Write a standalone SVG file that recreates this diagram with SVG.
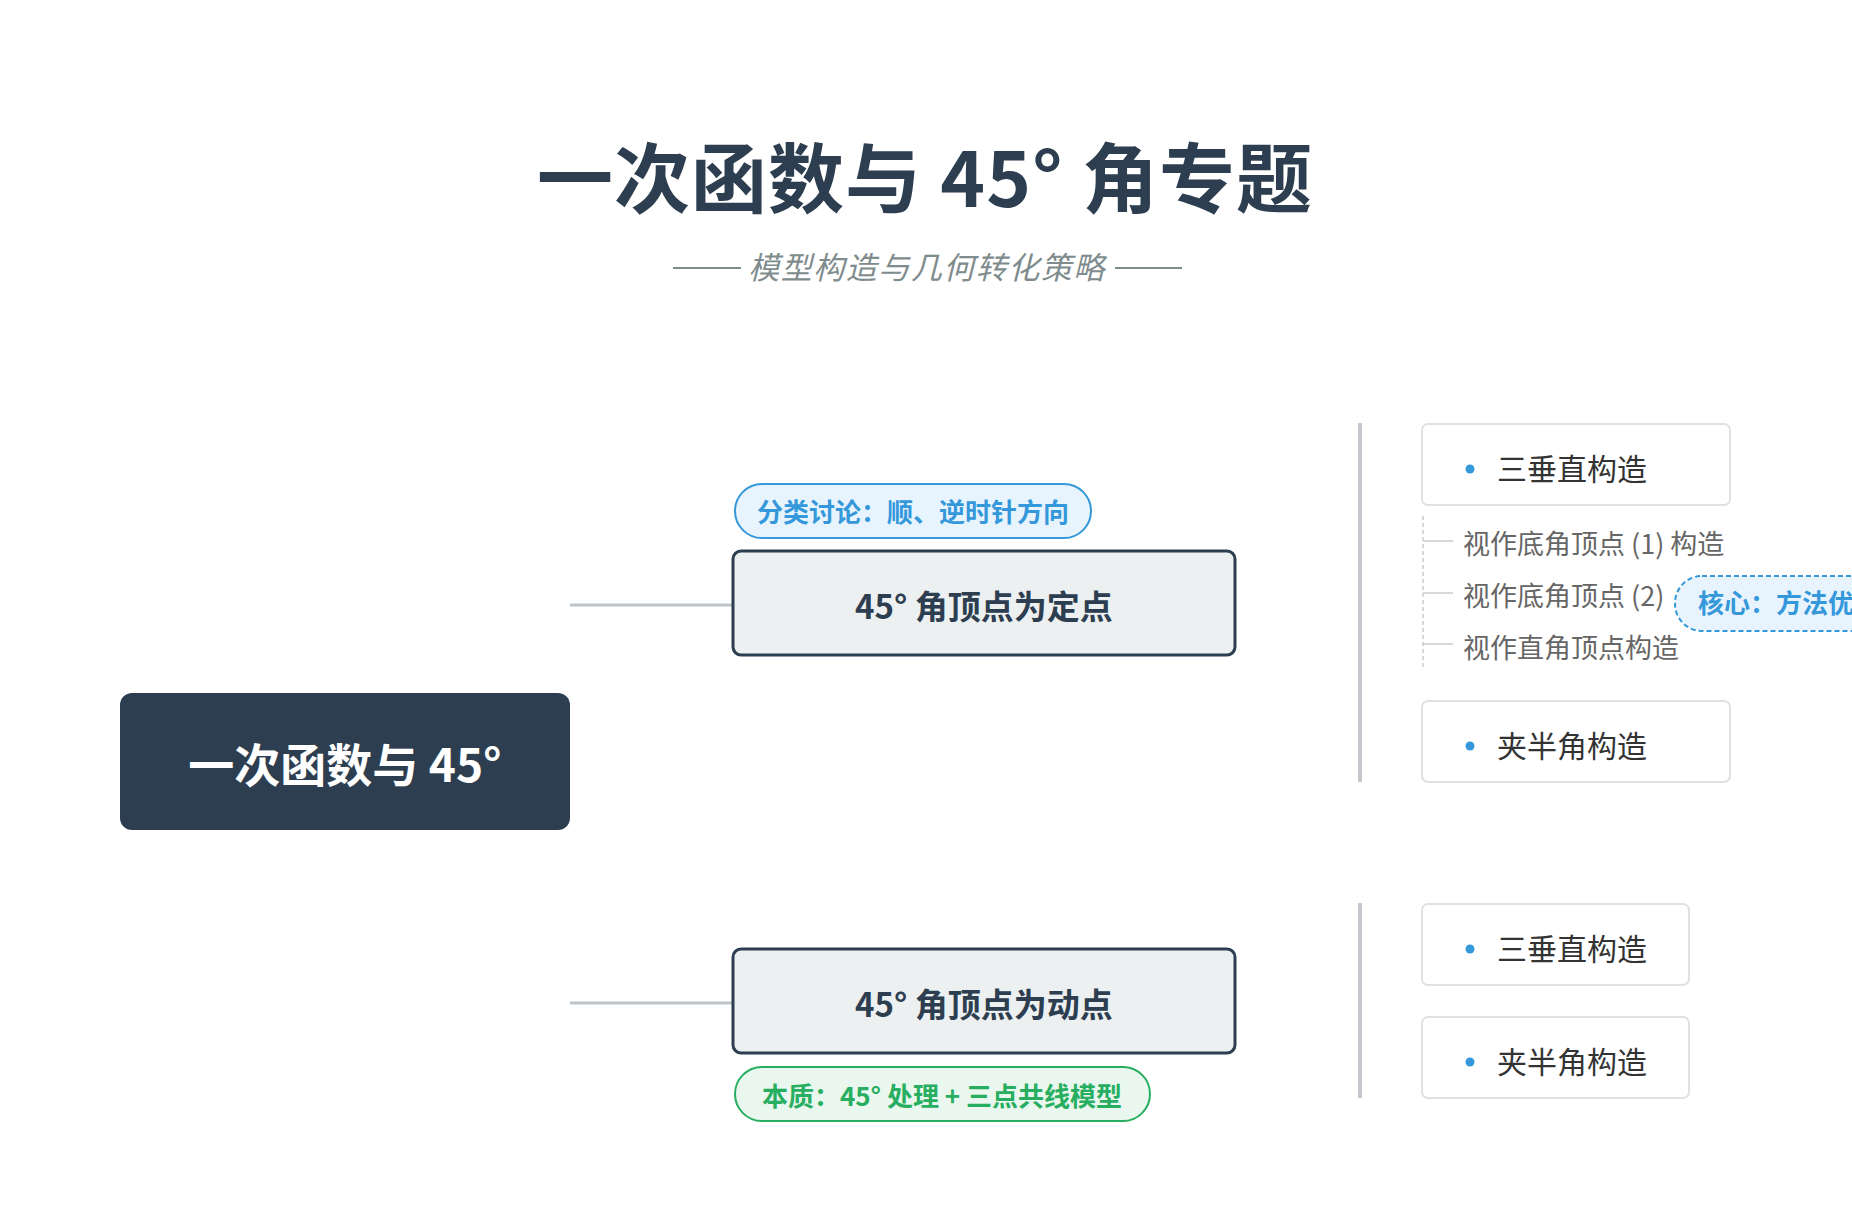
<svg xmlns="http://www.w3.org/2000/svg" width="1852" height="1220" viewBox="0 0 1852 1220">
<style>
text{font-family:"Noto Sans CJK SC","Liberation Sans",sans-serif}
.leaf{fill:#fff;stroke:#dfe2e5;stroke-width:2}
.lt{font-size:30px;fill:#333}
.st{font-size:27px;fill:#666}
.dot{fill:#3498db}
.main{fill:#ecf0f1;stroke:#2d3e50;stroke-width:3}
.mt{font-size:33px;font-weight:bold;fill:#2d3e50;text-anchor:middle}
</style>
<rect width="1852" height="1220" fill="#fff"/>
<g id="title">
<text x="925" y="207" font-size="76" font-weight="bold" fill="#2d3e50" text-anchor="middle" letter-spacing="1">一次函数与 45° 角专题</text>
<line x1="673" y1="268" x2="741" y2="268" stroke="#7f8c8d" stroke-width="2"/>
<line x1="1115" y1="268" x2="1182" y2="268" stroke="#7f8c8d" stroke-width="2"/>
<text x="927" y="279" font-size="31" font-style="italic" fill="#7f8c8d" text-anchor="middle" letter-spacing="1.5">模型构造与几何转化策略</text>
</g>
<g id="connectors" stroke-linecap="butt">
<line x1="570" y1="605" x2="732" y2="605" stroke="#bdc3c7" stroke-width="3"/>
<line x1="570" y1="1003" x2="732" y2="1003" stroke="#bdc3c7" stroke-width="3"/>
<line x1="1360" y1="423" x2="1360" y2="782" stroke="#c5c9ce" stroke-width="4"/>
<line x1="1360" y1="903" x2="1360" y2="1098" stroke="#c5c9ce" stroke-width="4"/>
<line x1="1423" y1="516" x2="1423" y2="668" stroke="#ccc" stroke-width="1.5" stroke-dasharray="4 3"/>
<line x1="1423" y1="541" x2="1453" y2="541" stroke="#ccc" stroke-width="1.5"/>
<line x1="1423" y1="593" x2="1453" y2="593" stroke="#ccc" stroke-width="1.5"/>
<line x1="1423" y1="644" x2="1453" y2="644" stroke="#ccc" stroke-width="1.5"/>
</g>
<g id="root">
<rect x="120" y="693" width="450" height="137" rx="12" fill="#2d3e50"/>
<text x="345" y="782" font-size="46" font-weight="bold" fill="#fff" text-anchor="middle">一次函数与 45°</text>
</g>
<g id="node-fixed">
<rect x="733" y="551" width="502" height="104" rx="8" class="main"/>
<text x="984" y="619" class="mt">45° 角顶点为定点</text>
</g>
<g id="label-fixed">
<rect x="735" y="484" width="356" height="54" rx="27" fill="#e8f4fd" stroke="#3498db" stroke-width="2"/>
<text x="913" y="522" font-size="26" font-weight="bold" fill="#3498db" text-anchor="middle">分类讨论：顺、逆时针方向</text>
</g>
<g id="node-moving">
<rect x="733" y="949" width="502" height="104" rx="8" class="main"/>
<text x="984" y="1017" class="mt">45° 角顶点为动点</text>
</g>
<g id="label-moving">
<rect x="735" y="1067" width="415" height="54" rx="27" fill="#e9f7ef" stroke="#27ae60" stroke-width="2"/>
<text x="942" y="1106" font-size="26" font-weight="bold" fill="#27ae60" text-anchor="middle">本质：45° 处理 + 三点共线模型</text>
</g>
<g id="leaf1">
<rect x="1422" y="424" width="308" height="81" rx="6" class="leaf"/>
<circle cx="1470" cy="469" r="4.5" class="dot"/>
<text x="1497" y="480" class="lt">三垂直构造</text>
</g>
<g id="sub1"><text x="1463" y="554" class="st">视作底角顶点 (1) 构造</text></g>
<g id="sub2"><text x="1463" y="606" class="st">视作底角顶点 (2)</text></g>
<g id="sub3"><text x="1463" y="658" class="st">视作直角顶点构造</text></g>
<g id="callout">
<rect x="1675" y="576" width="260" height="55" rx="27" fill="#e8f4fd" stroke="#3498db" stroke-width="2" stroke-dasharray="5 3"/>
<text x="1698" y="613" font-size="26" font-weight="bold" fill="#3498db">核心：方法优化</text>
</g>
<g id="leaf2">
<rect x="1422" y="701" width="308" height="81" rx="6" class="leaf"/>
<circle cx="1470" cy="746" r="4.5" class="dot"/>
<text x="1497" y="757" class="lt">夹半角构造</text>
</g>
<g id="leaf3">
<rect x="1422" y="904" width="267" height="81" rx="6" class="leaf"/>
<circle cx="1470" cy="949" r="4.5" class="dot"/>
<text x="1497" y="960" class="lt">三垂直构造</text>
</g>
<g id="leaf4">
<rect x="1422" y="1017" width="267" height="81" rx="6" class="leaf"/>
<circle cx="1470" cy="1062" r="4.5" class="dot"/>
<text x="1497" y="1073" class="lt">夹半角构造</text>
</g>
</svg>
